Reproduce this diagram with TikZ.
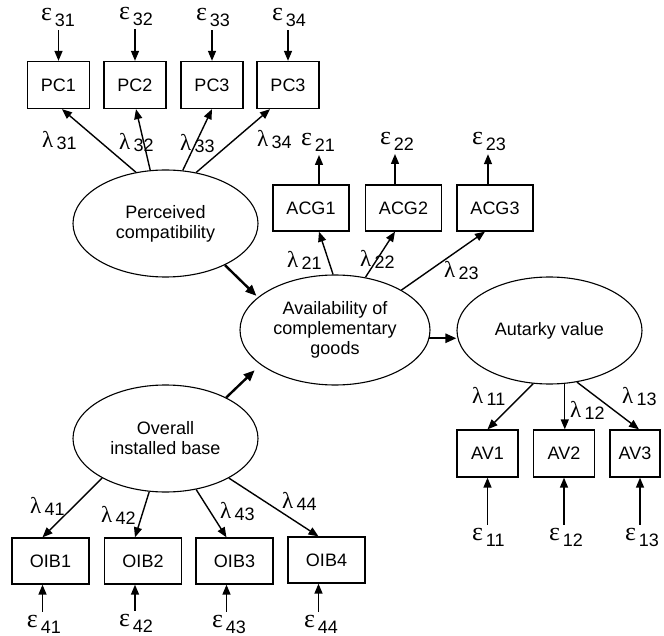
\documentclass[tikz,border=0pt]{standalone}
\usepackage{fontspec}
\setmainfont{Liberation Sans}
\newfontfamily\grk{Liberation Serif}
\usetikzlibrary{shapes.geometric,arrows.meta,calc}
\newcommand\Eps[1]{{\grk\fontsize{26}{26}\selectfont ε}\hspace{3pt}\raisebox{-6pt}{\fontsize{18}{20}\selectfont #1}}
\newcommand\Lam[1]{{\grk\fontsize{23}{23}\selectfont λ}\hspace{3.5pt}\raisebox{-2pt}{\fontsize{18}{20}\selectfont #1}}
\begin{document}
\begin{tikzpicture}[x=1pt,y=-1pt,
 every node/.style={font=\fontsize{18}{20}\selectfont},
 box/.style={draw, line width=1.3pt, minimum height=47pt, inner sep=0pt},
 lat/.style={draw, ellipse, line width=1.1pt, inner sep=0pt, align=center, minimum width=185pt, minimum height=107pt},
 lab/.style={inner sep=0pt, outer sep=3pt, anchor=base west},
 arr/.style={-{Triangle[length=10pt,width=8pt]}, line width=1.4pt},
 causal/.style={-{Triangle[length=11pt,width=9pt]}, line width=2.4pt},
]
\useasboundingbox (0,0) rectangle (664,636);
% latent variables
\node[lat] (pc) at (165.5,223.5) {Perceived\\compatibility};
\node[lat, minimum width=190pt, minimum height=110pt] (avail) at (335,330) {Availability of\\complementary\\goods};
\node[lat] (aut) at (549.5,330.5) {Autarky value};
\node[lat] (oib) at (165.5,438.5) {Overall\\installed base};
% PC boxes
\node[box, minimum width=62pt] (pc1) at (58.5,85) {PC1};
\node[box, minimum width=62pt] (pc2) at (135,85) {PC2};
\node[box, minimum width=62pt] (pc3) at (212,85) {PC3};
\node[box, minimum width=62pt] (pc4) at (288,85) {PC3};
% ACG boxes
\node[box, minimum width=76pt, minimum height=46pt] (acg1) at (311,208) {ACG1};
\node[box, minimum width=76pt, minimum height=46pt] (acg2) at (403.5,208) {ACG2};
\node[box, minimum width=76pt, minimum height=46pt] (acg3) at (495,208) {ACG3};
% AV boxes
\node[box, minimum width=61pt] (av1) at (487.5,453.5) {AV1};
\node[box, minimum width=61pt] (av2) at (564,453.5) {AV2};
\node[box, minimum width=50pt] (av3) at (635,453.5) {AV3};
% OIB boxes
\node[box, minimum width=77pt, minimum height=46pt] (oib1) at (50.5,561) {OIB1};
\node[box, minimum width=77pt, minimum height=46pt] (oib2) at (143,561) {OIB2};
\node[box, minimum width=77pt, minimum height=46pt] (oib3) at (234.5,561) {OIB3};
\node[box, minimum width=77pt, minimum height=46pt] (oib4) at (326.5,560) {OIB4};
% error labels
\node[lab] (e31) at (38,21) {\Eps{31}};
\node[lab] (e32) at (116,20) {\Eps{32}};
\node[lab] (e33) at (193,21) {\Eps{33}};
\node[lab] (e34) at (269,21) {\Eps{34}};
\node[lab] (e21) at (298,146) {\Eps{21}};
\node[lab] (e22) at (377,145) {\Eps{22}};
\node[lab] (e23) at (469,145) {\Eps{23}};
\node[lab] (e11) at (469,540) {\Eps{11}};
\node[lab] (e12) at (546,540) {\Eps{12}};
\node[lab] (e13) at (622,540) {\Eps{13}};
\node[lab] (e41) at (24,627) {\Eps{41}};
\node[lab] (e42) at (116,626) {\Eps{42}};
\node[lab] (e43) at (209,627) {\Eps{43}};
\node[lab] (e44) at (301,627) {\Eps{44}};
% loading labels
\node[lab] (l31) at (39,148) {\Lam{31}};
\node[lab] (l32) at (116,150) {\Lam{32}};
\node[lab] (l33) at (177,151) {\Lam{33}};
\node[lab] (l34) at (254,147) {\Lam{34}};
\node[lab] (l21) at (284,268) {\Lam{21}};
\node[lab] (l22) at (357,267) {\Lam{22}};
\node[lab] (l23) at (441,278) {\Lam{23}};
\node[lab] (l11) at (469,403) {\Lam{11}};
\node[lab] (l12) at (567,417) {\Lam{12}};
\node[lab] (l13) at (619,403) {\Lam{13}};
\node[lab] (l41) at (27,513) {\Lam{41}};
\node[lab] (l42) at (98,522) {\Lam{42}};
\node[lab] (l43) at (217,518) {\Lam{43}};
\node[lab] (l44) at (279,508) {\Lam{44}};
% error arrows
\draw[arr] (e31.south -| pc1.north) -- (pc1.north);
\draw[arr] (e32.south -| pc2.north) -- (pc2.north);
\draw[arr] (e33.south -| pc3.north) -- (pc3.north);
\draw[arr] (e34.south -| pc4.north) -- (pc4.north);
\draw[arr] ([xshift=8pt]acg1.north) -- ([xshift=8pt]acg1.north |- e21.south);
\draw[arr] ([xshift=-8.5pt]acg2.north) -- ([xshift=-8.5pt]acg2.north |- e22.south);
\draw[arr] ([xshift=-7pt]acg3.north) -- ([xshift=-7pt]acg3.north |- e23.south);
\draw[arr] (e11.north -| av1.south) -- (av1.south);
\draw[arr] (e12.north -| av2.south) -- (av2.south);
\draw[arr] ([xshift=5pt]av3.south |- e13.north) -- ([xshift=5pt]av3.south);
\draw[arr] ([xshift=-8pt]oib1.south |- e41.north) -- ([xshift=-8pt]oib1.south);
\draw[arr] ([xshift=-8pt]oib2.south |- e42.north) -- ([xshift=-8pt]oib2.south);
\draw[arr] ([xshift=-8pt]oib3.south |- e43.north) -- ([xshift=-8pt]oib3.south);
\draw[arr] ([xshift=-8pt]oib4.south |- e44.north) -- ([xshift=-8pt]oib4.south);
% loadings
\draw[arr] (pc.120.2) -- ([xshift=3.5pt]pc1.south);
\draw[arr] (pc.106.2) -- ([xshift=1pt]pc2.south);
\draw[arr] (pc.72.6) -- (pc3.south);
\draw[arr] (pc.59.5) -- ([xshift=-18pt]pc4.south);
\draw[arr] (avail.92) -- ([xshift=8pt]acg1.south);
\draw[arr] (avail.60.5) -- ([xshift=-8.5pt]acg2.south);
\draw[arr] (avail.31.5) -- ([xshift=-10pt]acg3.south);
\draw[arr] (aut.253) -- (av1.north);
\draw[arr] (aut.-74.8) -- (aut.-74.8 |- av2.north);
\draw[arr] (aut.-62) -- ([xshift=4pt]av3.north);
\draw[arr] (oib.212.3) -- ([xshift=-8pt]oib1.north);
\draw[arr] (oib.253.8) -- ([xshift=-8pt]oib2.north);
\draw[arr] (oib.-59.5) -- ([xshift=-8pt]oib3.north);
\draw[arr] (oib.-32.3) -- ([xshift=-8pt]oib4.north);
% structural paths
\draw[causal, shorten >=2pt] (pc.-35.3) -- (avail.157);
\draw[causal, shorten >=8pt] (oib.34) -- (avail.205.5);
\draw[causal] (avail.-5) -- (avail.-5 -| aut.west);
\end{tikzpicture}
\end{document}
